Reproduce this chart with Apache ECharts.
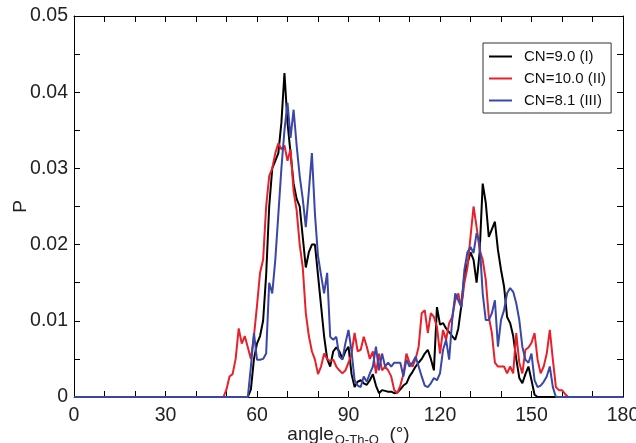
<!DOCTYPE html>
<html><head><meta charset="utf-8">
<script src="https://cdn.jsdelivr.net/npm/echarts@6/dist/echarts.min.js"></script>
<style>html,body{margin:0;padding:0;background:#fff}#c{width:636px;height:443px}</style>
</head><body><div id="c"></div>
<script>
const seriesNames = ['CN=9.0 (I)', 'CN=10.0 (II)', 'CN=8.1 (III)'];
const xTicks = [0, 30, 60, 90, 120, 150, 180];
const yTicks = [0, 0.01, 0.02, 0.03, 0.04, 0.05];
const angles = [0,
 45,46,47,48,49,50,51,52,53,54,55,56,57,58,59,60,61,62,63,64,65,66,67,68,69,70,71,72,73,74,
 75,76,77,78,79,80,81,82,83,84,85,86,87,88,89,90,91,92,93,94,95,96,97,98,99,100,101,102,103,104,
 105,106,107,108,109,110,111,112,113,114,115,116,117,118,119,120,121,122,123,124,125,126,127,128,129,130,131,132,133,134,
 135,136,137,138,139,140,141,142,143,144,145,146,147,148,149,150,151,152,153,154,155,156,157,158,159,160,161,162,163,164,165,
 180];
const cn90 = [0,
 0,0,0,0,0,0,0,0,0,0,0,0,0,0.001,0.005,0.007,0.008,0.010,0.016,0.025,0.030,0.031,0.032,0.036,0.0425,0.036,0.032,0.028,0.026,0.025,
 0.021,0.017,0.019,0.020,0.020,0.016,0.012,0.008,0.005,0.004,0.006,0.0065,0.006,0.005,0.006,0.0066,0.003,0.0013,0.002,0.0022,0.0018,0.0016,0.0022,0.003,0.0015,0.0005,0.0009,0.0008,0.0007,0.0007,
 0.0005,0.0006,0.001,0.0015,0.0018,0.0027,0.0033,0.004,0.0045,0.005,0.0057,0.0062,0.005,0.0035,0.0118,0.0095,0.0097,0.009,0.0085,0.008,0.0075,0.009,0.012,0.016,0.0175,0.019,0.018,0.015,0.019,0.028,
 0.0255,0.021,0.022,0.023,0.0193,0.0167,0.0145,0.0105,0.0097,0.008,0.005,0.0025,0.0018,0.003,0.004,0.0022,0.0003,0,0,0,0,0,0,0,0,0,0,0,0,0,0,
 0];
const cn100 = [0,
 0,0,0,0,0,0.001,0.0027,0.003,0.005,0.009,0.007,0.008,0.0065,0.005,0.008,0.012,0.0163,0.018,0.025,0.029,0.030,0.032,0.0333,0.0325,0.033,0.031,0.0325,0.027,0.0245,0.020,
 0.017,0.011,0.008,0.006,0.0049,0.003,0.004,0.0057,0.005,0.0047,0.0049,0.004,0.0035,0.0031,0.0035,0.0045,0.0057,0.0084,0.006,0.0062,0.0079,0.0066,0.005,0.006,0.0031,0.0057,0.0035,0.004,0.0035,0.0027,
 0.0009,0.0005,0.0015,0.003,0.0057,0.0045,0.004,0.005,0.0066,0.011,0.0114,0.0084,0.011,0.0105,0.0092,0.0057,0.0088,0.0075,0.0097,0.0105,0.0127,0.0136,0.0118,0.015,0.017,0.021,0.025,0.0223,0.0193,0.018,
 0.0154,0.0105,0.0084,0.0045,0.004,0.004,0.004,0.0031,0.004,0.0031,0.0084,0.0045,0.0031,0.0062,0.0065,0.0071,0.0084,0.0049,0.0031,0.004,0.0057,0.0088,0.0049,0.0013,0.0009,0.0009,0.0004,0,0,0,0,
 0];
const cn81 = [0,
 0,0,0,0,0,0,0,0,0,0,0,0,0,0.004,0.0084,0.0049,0.0049,0.005,0.0057,0.015,0.0136,0.018,0.024,0.030,0.035,0.0386,0.034,0.0377,0.033,0.029,
 0.026,0.0223,0.027,0.032,0.024,0.0185,0.016,0.0136,0.0163,0.0079,0.0075,0.0079,0.0053,0.0049,0.0071,0.0088,0.006,0.0022,0.0015,0.0013,0.0027,0.002,0.0031,0.004,0.0066,0.0035,0.0057,0.004,0.0045,0.004,
 0.0045,0.0045,0.0045,0.0027,0.0049,0.004,0.0045,0.0053,0.004,0.0027,0.0015,0.0013,0.0018,0.0025,0.0022,0.0031,0.0062,0.0075,0.0049,0.0101,0.0136,0.0127,0.0118,0.0167,0.019,0.0197,0.0189,0.0215,0.0202,0.0136,
 0.0101,0.0101,0.011,0.0127,0.0066,0.0101,0.0114,0.0136,0.0143,0.0138,0.0123,0.0101,0.0066,0.0049,0.0045,0.0057,0.0022,0.0013,0.0015,0.002,0.0027,0.004,0.0013,0,0,0,0,0,0,0,0,
 0];

const FONT = 'Liberation Sans, Arial, Helvetica, sans-serif';
const colors = ['#000000', '#e8202a', '#3a46a8'];
const values = [cn90, cn100, cn81];

function axisCommon(extra) {
  return Object.assign({
    axisLine: { show: true, onZero: false, lineStyle: { color: '#000', width: 1 } },
    axisTick: { show: true, inside: true, length: 6, lineStyle: { color: '#000', width: 1 } },
    minorTick: { show: true, length: 6, lineStyle: { color: '#000', width: 1 } },
    splitLine: { show: false },
    minorSplitLine: { show: false }
  }, extra);
}

const chart = echarts.init(document.getElementById('c'), null, { renderer: 'canvas' });
chart.setOption({
  animation: false,
  backgroundColor: '#fff',
  grid: { left: 74, right: 13, top: 16, bottom: 46, containLabel: false, outerBoundsMode: 'none' },
  legend: {
    orient: 'vertical',
    left: 483, top: 43,
    padding: [6, 5, 5, 5],
    itemWidth: 23, itemHeight: 14, itemGap: 7,
    borderColor: '#333', borderWidth: 1,
    backgroundColor: '#fff',
    itemStyle: { opacity: 0 },
    lineStyle: { width: 2 },
    data: seriesNames,
    textStyle: { fontFamily: FONT, fontSize: 15, color: '#111', padding: [0, 0, 0, 7] }
  },
  xAxis: [
    axisCommon({
      type: 'value', min: xTicks[0], max: xTicks[xTicks.length - 1], interval: 30, position: 'bottom',
      minorTick: { show: true, splitNumber: 3, length: 6, lineStyle: { color: '#000', width: 1 } },
      axisLabel: { fontFamily: FONT, fontSize: 19.5, color: '#222', margin: 9 },
      name: '{a|angle}{s|O-Th-O}{a|  (°)}',
      nameLocation: 'middle', nameGap: 25, nameMoveOverlap: false,
      nameTextStyle: {
        rich: {
          a: { fontFamily: FONT, fontSize: 19, color: '#222', lineHeight: 19 },
          s: { fontFamily: FONT, fontSize: 13, color: '#222', verticalAlign: 'bottom', padding: [12, 0, 0, 1] }
        }
      }
    }),
    axisCommon({
      type: 'value', min: xTicks[0], max: xTicks[xTicks.length - 1], interval: 30, position: 'top',
      minorTick: { show: true, splitNumber: 3, length: 6, lineStyle: { color: '#000', width: 1 } },
      axisLabel: { show: false }
    })
  ],
  yAxis: [
    axisCommon({
      type: 'value', min: yTicks[0], max: yTicks[yTicks.length - 1], interval: 0.01, position: 'left',
      minorTick: { show: true, splitNumber: 2, length: 6, lineStyle: { color: '#000', width: 1 } },
      axisLabel: { fontFamily: FONT, fontSize: 19.5, color: '#222', margin: 6,
        formatter: v => v === 0 ? '0' : v.toFixed(2) },
      name: 'P', nameLocation: 'middle', nameGap: 44, nameRotate: 90, nameMoveOverlap: false,
      nameTextStyle: { fontFamily: FONT, fontSize: 19, color: '#222' }
    }),
    axisCommon({
      type: 'value', min: yTicks[0], max: yTicks[yTicks.length - 1], interval: 0.01, position: 'right',
      minorTick: { show: true, splitNumber: 2, length: 6, lineStyle: { color: '#000', width: 1 } },
      axisLabel: { show: false }
    })
  ],
  series: seriesNames.map((name, k) => ({
    name: name,
    type: 'line',
    xAxisIndex: 0, yAxisIndex: 0,
    symbol: 'none',
    color: colors[k],
    lineStyle: { color: colors[k], width: 2 },
    data: angles.map((a, i) => [a, values[k][i]])
  }))
});
</script>
</body></html>
